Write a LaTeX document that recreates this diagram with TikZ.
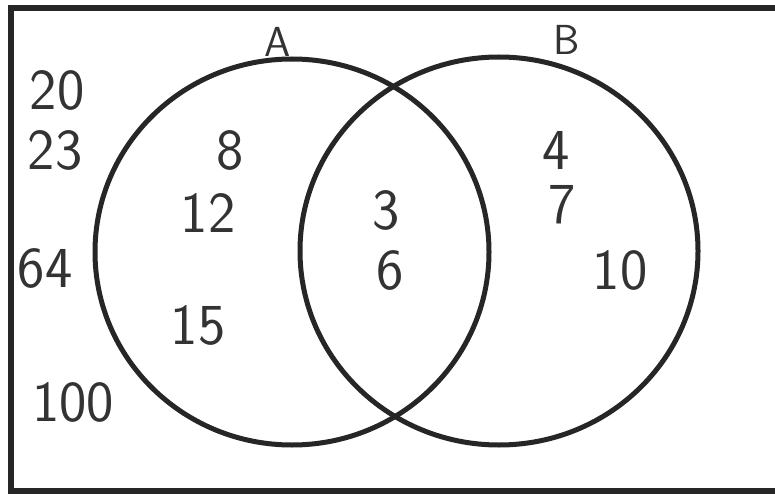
\documentclass[tikz,border=0pt]{standalone}
\begin{document}
\begin{tikzpicture}[x=1pt,y=-1pt,
  num/.style={font=\sffamily\fontsize{58}{58}\selectfont, text=black!80, inner sep=0pt},
  lab/.style={font=\sffamily\fontsize{42}{42}\selectfont, text=black!80, inner sep=0pt},
  ring/.style={draw=black!85, line width=5pt}]
\useasboundingbox (0,0) rectangle (775,494);
\fill[white] (0,0) rectangle (775,494);
\draw[black!85, line width=6pt] (790,8) -- (11,8) -- (11,491) -- (790,491);
\draw[ring] (292,252) ellipse [x radius=197, y radius=193];
\draw[ring] (499,251) ellipse [x radius=199, y radius=194];
\node[lab] (la) at (278,42) {A};
\node[lab] (lb) at (567,40) {B};
\node[num] (n20) at (57,90) {20};
\node[num] (n23) at (55,150) {23};
\node[num] (n64) at (45,268) {64};
\node[num] (n100) at (73,402) {100};
\node[num] (n8) at (230,150) {8};
\node[num] (n12) at (208,213) {12};
\node[num] (n15) at (198,325) {15};
\node[num] (n3) at (386,210) {3};
\node[num] (n6) at (390,270) {6};
\node[num] (n4) at (556,150) {4};
\node[num] (n7) at (562,205) {7};
\node[num] (n10) at (620,270) {10};
\end{tikzpicture}
\end{document}
